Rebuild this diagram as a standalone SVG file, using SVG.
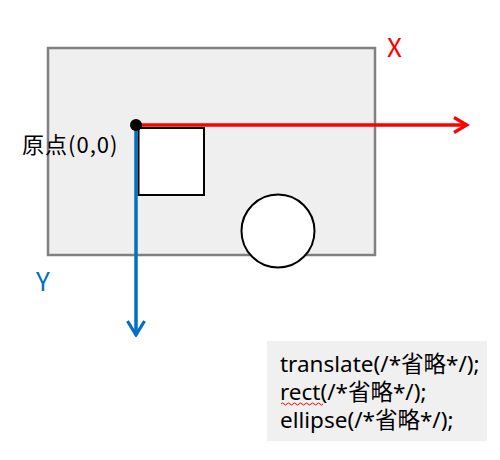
<svg xmlns="http://www.w3.org/2000/svg" width="500" height="460" viewBox="0 0 500 460">
<style>
.lbl{font-family:"Noto Sans CJK JP","Noto Sans",sans-serif;}
.code{font-family:"Noto Sans","Noto Sans CJK JP",sans-serif;font-size:22.5px;fill:#000;}
</style>
<defs>
<marker id="arrR" markerWidth="18" markerHeight="18" refX="15" refY="9" orient="auto" markerUnits="userSpaceOnUse" viewBox="0 0 18 18">
<path d="M2,1.5 L15,9 L2,16.5" fill="none" stroke="#ff0000" stroke-width="3.2"/>
</marker>
<marker id="arrB" markerWidth="18" markerHeight="20" refX="16" refY="10" orient="auto" markerUnits="userSpaceOnUse" viewBox="0 0 18 20">
<path d="M2,1.5 L16,10 L2,18.5" fill="none" stroke="#0070c0" stroke-width="3.2"/>
</marker>
</defs>
<rect width="500" height="460" fill="#fff"/>
<g id="canvas">
<rect x="48" y="48" width="327" height="207" fill="#efefef" stroke="#808080" stroke-width="2.5"/>
</g>
<g id="square">
<rect x="138.5" y="128" width="65.5" height="67" fill="#fff" stroke="#000" stroke-width="2"/>
</g>
<g id="circle">
<circle cx="278" cy="231" r="36.5" fill="#fff" stroke="#000" stroke-width="2"/>
</g>
<g id="connectors">
<line x1="136" y1="125" x2="467" y2="125" stroke="#ff0000" stroke-width="3.5" marker-end="url(#arrR)"/>
<line x1="136" y1="125" x2="136" y2="335" stroke="#0070c0" stroke-width="3.5" marker-end="url(#arrB)"/>
</g>
<g id="origin">
<circle cx="136" cy="125" r="6" fill="#000"/>
<text x="22" y="153" class="lbl" font-size="22" fill="#000" letter-spacing="1">原点(0,0)</text>
</g>
<g id="x-label">
<text x="387" y="57" class="lbl" font-size="26" fill="#ff0000">X</text>
</g>
<g id="y-label">
<text x="36" y="291" class="lbl" font-size="26" fill="#0070c0">Y</text>
</g>
<g id="codebox">
<rect x="267" y="341" width="220" height="100" fill="#f0f0f0"/>
<text x="280" y="372" class="code">translate(/*省略*/);</text>
<text x="280" y="400" class="code">rect(/*省略*/);</text>
<text x="280" y="428" class="code">ellipse(/*省略*/);</text>
<path d="M281,404 q1.5,-2 3,0 t3,0 t3,0 t3,0 t3,0 t3,0 t3,0 t3,0 t3,0 t3,0 t3,0 t3,0 t3,0 t3,0" fill="none" stroke="#ff0000" stroke-width="1"/>
</g>
</svg>
